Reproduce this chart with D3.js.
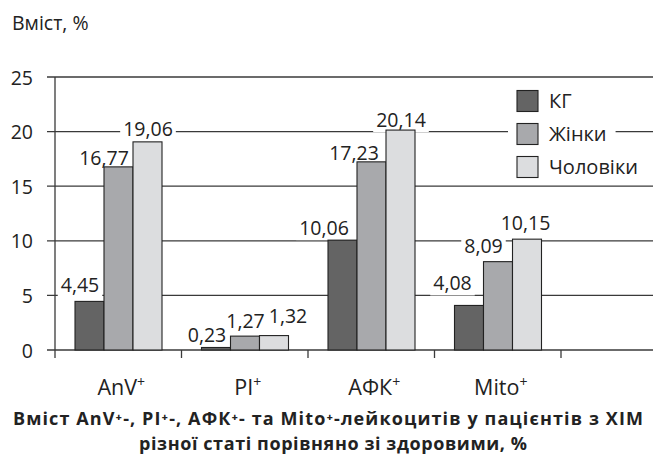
<!DOCTYPE html>
<html><head><meta charset="utf-8">
<script src="https://cdn.jsdelivr.net/npm/d3@7"></script>
<style>
html,body{margin:0;padding:0;background:#fff;}
svg{display:block;font-family:"Open Sans","Noto Sans","DejaVu Sans",sans-serif;}
</style></head>
<body>
<svg id="c" width="653" height="463"></svg>
<script>
// ---- data ----
const categories = ["AnV", "PI", "АФК", "Mito"];
const seriesNames = ["КГ", "Жінки", "Чоловіки"];
const valuesKG = [4.45, 0.23, 10.06, 4.08];
const valuesWomen = [16.77, 1.27, 17.23, 8.09];
const valuesMen = [19.06, 1.32, 20.14, 10.15];
const valueLabels = [
  ["4,45", "0,23", "10,06", "4,08"],
  ["16,77", "1,27", "17,23", "8,09"],
  ["19,06", "1,32", "20,14", "10,15"]
];
const yTicks = [0, 5, 10, 15, 20, 25];
const yTitle = "Вміст, %";
const titleLine1 = "Вміст AnV⁺-, PI⁺-, АФК⁺- та Mito⁺-лейкоцитів у пацієнтів з ХІМ";
const titleLine2 = "різної статі порівняно зі здоровими, %";

// ---- layout ----
const colors = ["#646464", "#a8a9ac", "#dcdddf"];
const series = [valuesKG, valuesWomen, valuesMen];
// label nudges [dx, dy] relative to bar centre / bar top
const nudge = [
  [[-9.5,-9.5],[-9,-5.5],[-18.5,-5],[-16.5,-15]],
  [[-14.5,-2],[0.5,-8],[-17.5,-2],[-14.5,-8.5]],
  [[0.5,-6],[14,-12.5],[0.5,-3],[-1.5,-9]]
];

const svg = d3.select("#c");
const y = d3.scaleLinear().domain([0, 25]).range([350, 77]);
const x = d3.scaleBand().domain(categories).range([55, 561]).padding(0);
const xs = d3.scaleBand().domain(seriesNames).range([20, 107]).padding(0);

// y title
svg.append("text").attr("x", 12).attr("y", 30).attr("font-size", 19.5).attr("fill", "#222").text(yTitle);

// gridlines
svg.append("g").selectAll("line").data(yTicks).join("line")
  .attr("x1", 47).attr("x2", 653)
  .attr("y1", d => y(d)).attr("y2", d => y(d))
  .attr("stroke", "#3a3a3a").attr("stroke-width", 1.3);

// y axis labels
const yAxis = d3.axisLeft(y).tickValues(yTicks).tickSize(0).tickPadding(0).tickFormat(d3.format("d"));
svg.append("g").attr("transform", "translate(33,0)").call(yAxis)
  .call(g => g.select(".domain").remove())
  .call(g => g.selectAll("text").attr("font-size", 19.5).attr("fill", "#222").attr("font-family", "Open Sans").attr("dy", "0.36em"));

// y axis line
svg.append("line").attr("x1", 55).attr("x2", 55).attr("y1", y(25)).attr("y2", 358)
  .attr("stroke", "#3a3a3a").attr("stroke-width", 1.3);

// x ticks (category boundaries)
const bounds = categories.map(c => x(c)).concat([x.range()[1]]);
svg.append("g").selectAll("line").data(bounds.slice(1)).join("line")
  .attr("x1", d => d).attr("x2", d => d).attr("y1", 350).attr("y2", 358)
  .attr("stroke", "#3a3a3a").attr("stroke-width", 1.3);

// value labels
const labelData = [];
series.forEach((vals, si) => vals.forEach((v, ci) => {
  const cx = x(categories[ci]) + xs(seriesNames[si]) + xs.bandwidth() / 2 + nudge[si][ci][0];
  const by = y(v) + nudge[si][ci][1];
  labelData.push({ cx, by, t: valueLabels[si][ci] });
}));

const lblG = svg.append("g");
const lblText = lblG.selectAll("text").data(labelData).join("text")
  .attr("x", d => d.cx).attr("y", d => d.by)
  .attr("text-anchor", "middle").attr("font-size", 19.5).attr("fill", "#222")
  .text(d => d.t);
const bgG = svg.insert("g", () => lblG.node());
lblText.each(function () {
  const b = this.getBBox();
  bgG.append("rect").attr("x", b.x - 3).attr("y", b.y + 2).attr("width", b.width + 6).attr("height", b.height - 3).attr("fill", "#fff");
});

// bars
const barG = svg.insert("g", () => lblG.node());
series.forEach((vals, si) => {
  barG.append("g").selectAll("rect").data(vals).join("rect")
    .attr("x", (d, i) => x(categories[i]) + xs(seriesNames[si]))
    .attr("y", d => y(d))
    .attr("width", xs.bandwidth())
    .attr("height", d => y(0) - y(d))
    .attr("fill", colors[si]).attr("stroke", "#222").attr("stroke-width", 1.1);
});

// x labels
const xl = svg.append("g").selectAll("text").data(categories).join("text")
  .attr("x", d => x(d) + x.bandwidth() / 2 + 3).attr("y", 395)
  .attr("text-anchor", "middle").attr("font-size", 21.5).attr("fill", "#222");
xl.append("tspan").text(d => d);
xl.append("tspan").attr("font-size", 14).attr("dy", -8).text("+");

// legend
const lg = svg.append("g");
seriesNames.forEach((n, i) => {
  const g = lg.append("g").attr("transform", `translate(517,${90.5 + i * 33})`);
  const bg = g.append("rect").attr("x", -9).attr("y", -4).attr("height", 29).attr("fill", "#fff");
  g.append("rect").attr("width", 21).attr("height", 21).attr("fill", colors[i]).attr("stroke", "#222").attr("stroke-width", 1.1);
  const t = g.append("text").attr("x", 32).attr("y", 17.5).attr("font-size", 20).attr("fill", "#222").text(n);
  bg.attr("width", 32 + t.node().getComputedTextLength() + 18);
});

// title
const title = svg.append("g").attr("font-weight", "bold").attr("font-size", 18).attr("fill", "#222").attr("text-anchor", "middle");
title.append("text").attr("x", 328).attr("y", 424.5).attr("textLength", 630).attr("lengthAdjust", "spacing").text(titleLine1);
title.append("text").attr("x", 333).attr("y", 449.5).attr("textLength", 388).attr("lengthAdjust", "spacing").text(titleLine2);
</script>
</body></html>
